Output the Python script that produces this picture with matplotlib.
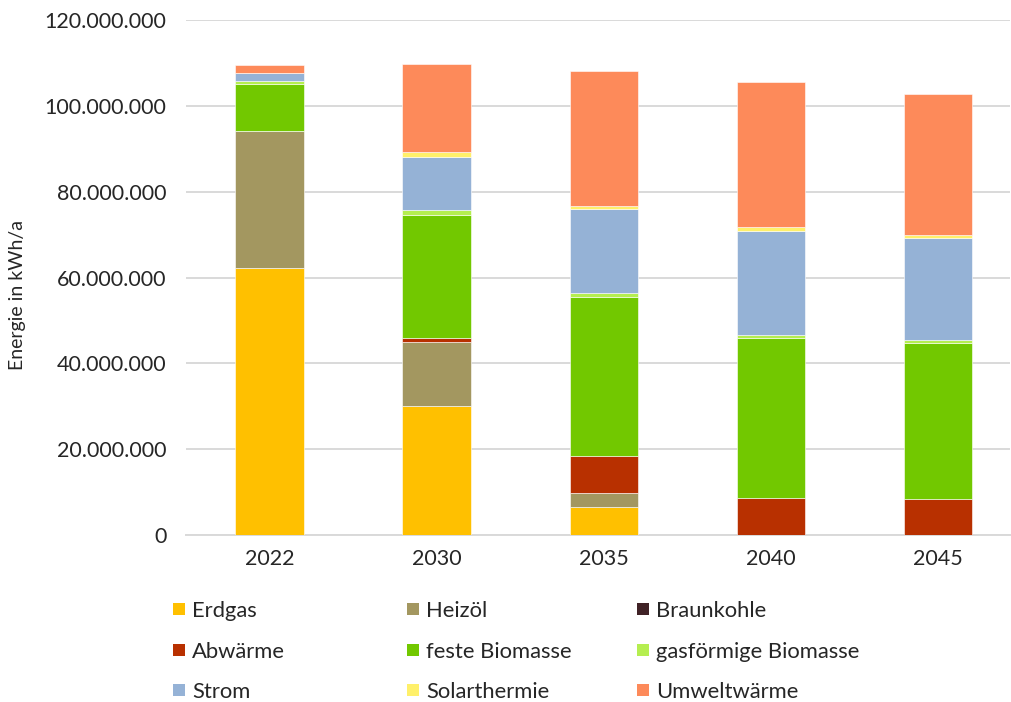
import matplotlib
matplotlib.use("Agg")
import matplotlib.pyplot as plt
from matplotlib.patches import Rectangle
import numpy as np

years = ["2022", "2030", "2035", "2040", "2045"]

categories = ["Erdgas", "Heizöl", "Braunkohle", "Abwärme", "feste Biomasse",
              "gasförmige Biomasse", "Strom", "Solarthermie", "Umweltwärme"]

erdgas = [62.2e6, 30.0e6, 6.5e6, 0.0, 0.0]
heizoel = [31.9e6, 15.0e6, 3.3e6, 0.0, 0.0]
braunkohle = [0.0, 0.0, 0.0, 0.0, 0.0]
abwaerme = [0.0, 1.0e6, 8.7e6, 8.6e6, 8.4e6]
feste_biomasse = [10.9e6, 28.6e6, 37.0e6, 37.3e6, 36.3e6]
gas_biomasse = [0.7e6, 1.1e6, 0.85e6, 0.6e6, 0.8e6]
strom = [1.9e6, 12.4e6, 19.5e6, 24.3e6, 23.6e6]
solarthermie = [0.1e6, 1.1e6, 0.85e6, 1.0e6, 0.9e6]
umweltwaerme = [1.7e6, 20.6e6, 31.45e6, 33.7e6, 32.7e6]

series = [erdgas, heizoel, braunkohle, abwaerme, feste_biomasse,
          gas_biomasse, strom, solarthermie, umweltwaerme]

colors = ["#FFC000", "#A39760", "#402226", "#B83000", "#72C800",
          "#B5EE50", "#95B2D6", "#FFF06A", "#FD8A5A"]

text_color = "#262626"
plt.rcParams["font.family"] = ["Lato", "DejaVu Sans"]

W, H = 1011, 702
fig = plt.figure(figsize=(W / 100, H / 100), dpi=100)
ax = fig.add_axes([186 / W, 1 - 535 / H, (1010 - 186) / W, (535 - 20) / H])

x = np.arange(len(years))
bottom = np.zeros(len(years))
for vals, col in zip(series, colors):
    v = np.array(vals)
    ax.bar(x, v, width=0.41, bottom=bottom, color=col,
           edgecolor="white", linewidth=0.4, zorder=3)
    bottom += v

yticks = np.arange(0, 120e6 + 1, 20e6)
ax.set_xlim(-0.5, 4.43)
ax.set_ylim(0, 120e6)
ax.set_yticks(yticks)
ax.set_yticklabels(["0" if t == 0 else f"{int(t):,}".replace(",", ".") for t in yticks])
ax.set_xticks(x)
ax.set_xticklabels(years)

ax.grid(axis="y", color="#D9D9D9", linewidth=1.4, zorder=0)
for s in ["top", "right", "left"]:
    ax.spines[s].set_visible(False)
ax.spines["bottom"].set_color("#D9D9D9")
ax.spines["bottom"].set_linewidth(1.4)
ax.tick_params(axis="both", length=0, labelsize=15.5, colors=text_color)
ax.tick_params(axis="y", pad=14)
ax.tick_params(axis="x", pad=10)

fig.text(18 / W, 1 - 295 / H, "Energie in kWh/a", rotation=90,
         ha="center", va="center", fontsize=14, color=text_color)

# legend: 3 x 3 grid, filled row by row
col_x = [173, 407, 637]
row_y = [609, 650, 690]
box = 12
for i, (name, col) in enumerate(zip(categories, colors)):
    r, c = divmod(i, 3)
    px, py = col_x[c], row_y[r]
    fig.patches.append(Rectangle((px / W, 1 - (py + box / 2) / H), box / W, box / H,
                                 transform=fig.transFigure, facecolor=col,
                                 edgecolor="none"))
    fig.text((px + 19) / W, 1 - py / H, name, ha="left", va="center_baseline",
             fontsize=15.8, color=text_color)

fig.savefig("out.png", dpi=100)
